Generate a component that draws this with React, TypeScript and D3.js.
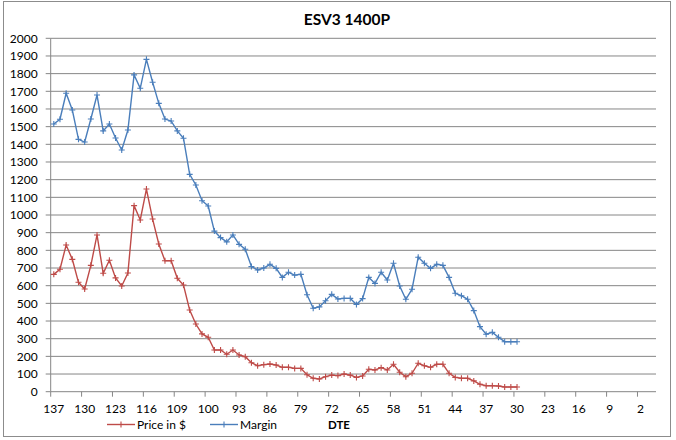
import React from 'react';
import * as d3 from 'd3';

// trading-day DTE categories (label shown every 5th)
const dte = [
    137, 136, 135, 134, 133, 130, 129, 128, 127, 126, 123, 122, 121, 120, 119, 116, 115, 114, 113, 112,
    109, 108, 107, 106, 103, 100, 99, 98, 97, 96, 93, 92, 91, 90, 89, 86, 85, 84, 83, 82,
    79, 78, 77, 76, 75, 72, 71, 70, 69, 68, 65, 64, 63, 62, 61, 58, 57, 56, 55, 54,
    51, 50, 49, 48, 47, 44, 43, 42, 41, 40, 37, 36, 35, 34, 33, 30, 29, 28, 27, 26,
    23, 22, 21, 20, 19, 16, 15, 14, 13, 12, 9, 8, 7, 6, 5, 2, 1, 0,
];

const priceValues = [
    664, 693, 830, 749, 619, 581, 715, 887, 670, 744, 644, 598, 672, 1053, 972, 1147, 977, 836, 741, 741,
    642, 604, 462, 383, 327, 308, 236, 236, 212, 236, 208, 198, 164, 147, 153, 157, 151, 138, 138, 132,
    132, 96, 76, 72, 85, 94, 91, 100, 94, 81, 89, 127, 123, 136, 123, 155, 110, 85, 104, 161,
    147, 138, 155, 155, 104, 81, 76, 76, 61, 42, 34, 34, 32, 27, 27, 27,
];

const marginValues = [
    1515, 1542, 1689, 1594, 1428, 1413, 1543, 1679, 1476, 1515, 1436, 1368, 1481, 1793, 1717, 1881, 1751, 1632, 1543, 1532,
    1476, 1434, 1230, 1170, 1081, 1051, 909, 872, 848, 887, 834, 806, 708, 689, 700, 721, 698, 647, 676, 660,
    664, 549, 472, 480, 515, 551, 525, 528, 528, 494, 527, 647, 613, 676, 632, 727, 598, 523, 580, 761,
    727, 698, 721, 715, 647, 557, 543, 523, 459, 368, 325, 336, 308, 283, 283, 283,
];

const seriesNames = ['Price in $', 'Margin'];
const seriesColors = ['#BE4B48', '#4A7EBB'];
const yTicks = d3.range(0, 2001, 100);

const title = 'ESV3 1400P';
const axisTitle = 'DTE';

const W = 676;
const H = 440;
const FONT = 'Lato, "Open Sans", sans-serif';

const App: React.FC = () => {
    const margin = { top: 38.3, right: 20, bottom: 48.3, left: 50.7 };

    const x = d3
        .scaleBand<number>()
        .domain(d3.range(dte.length))
        .range([margin.left, W - margin.right])
        .padding(0);

    const y = d3
        .scaleLinear()
        .domain([0, 2000])
        .range([H - margin.bottom, margin.top]);

    const cx = (i: number) => (x(i) as number) + x.bandwidth() / 2;

    const line = d3
        .line<number>()
        .x((_, i) => cx(i))
        .y(d => y(d));

    const series = [priceValues, marginValues];
    const plotRight = W - margin.right;
    const plotBottom = y(0);

    const cross = (px: number, py: number, color: string, key: string) => (
        <path key={key} d={`M${px - 3},${py}H${px + 3}M${px},${py - 3}V${py + 3}`} stroke={color} strokeWidth={1.1} fill="none" />
    );

    const labelIdx = d3.range(0, dte.length, 5);
    const legendX = [107, 210];

    return (
        <svg width={W} height={H} style={{ position: 'absolute', left: 0, top: 0, fontFamily: FONT }}>
            <rect x={3.5} y={1.5} width={667} height={435} fill="#fff" stroke="#8c8c8c" />

            <text x={347} y={25} textAnchor="middle" fontSize={15.5} fontWeight="bold" fill="#000">
                {title}
            </text>

            {/* gridlines and y axis */}
            {yTicks.map(t => (
                <g key={t}>
                    {t > 0 && <line x1={margin.left} x2={plotRight} y1={y(t)} y2={y(t)} stroke="#868686" strokeWidth={1} />}
                    <line x1={margin.left - 5} x2={margin.left} y1={y(t)} y2={y(t)} stroke="#868686" />
                    <text x={37.7} y={y(t)} dy="0.36em" textAnchor="end" fontSize={12} fill="#000">
                        {t}
                    </text>
                </g>
            ))}
            <line x1={margin.left} x2={margin.left} y1={margin.top} y2={plotBottom} stroke="#868686" />

            {/* x axis */}
            <line x1={margin.left} x2={plotRight} y1={plotBottom} y2={plotBottom} stroke="#868686" />
            {labelIdx.map(i => (
                <g key={i}>
                    <line x1={x(i) as number} x2={x(i) as number} y1={plotBottom} y2={plotBottom + 5} stroke="#868686" />
                    <text x={cx(i)} y={413} textAnchor="middle" fontSize={12} fill="#000">
                        {dte[i]}
                    </text>
                </g>
            ))}

            {/* series */}
            {series.map((vals, s) => (
                <g key={seriesNames[s]}>
                    <path d={line(vals) || ''} fill="none" stroke={seriesColors[s]} strokeWidth={1.4} />
                    {vals.map((v, i) => cross(cx(i), y(v), seriesColors[s], `${s}-${i}`))}
                </g>
            ))}

            {/* legend */}
            {seriesNames.map((name, s) => (
                <g key={name}>
                    <line x1={legendX[s]} x2={legendX[s] + 28} y1={424.5} y2={424.5} stroke={seriesColors[s]} strokeWidth={1.4} />
                    {cross(legendX[s] + 14, 424.5, seriesColors[s], `leg-${s}`)}
                    <text x={legendX[s] + 30} y={428.5} fontSize={12} fill="#000">
                        {name}
                    </text>
                </g>
            ))}
            <text x={328} y={428.5} fontSize={11.5} fontWeight="bold" fill="#000">
                {axisTitle}
            </text>
        </svg>
    );
};

export default App;
